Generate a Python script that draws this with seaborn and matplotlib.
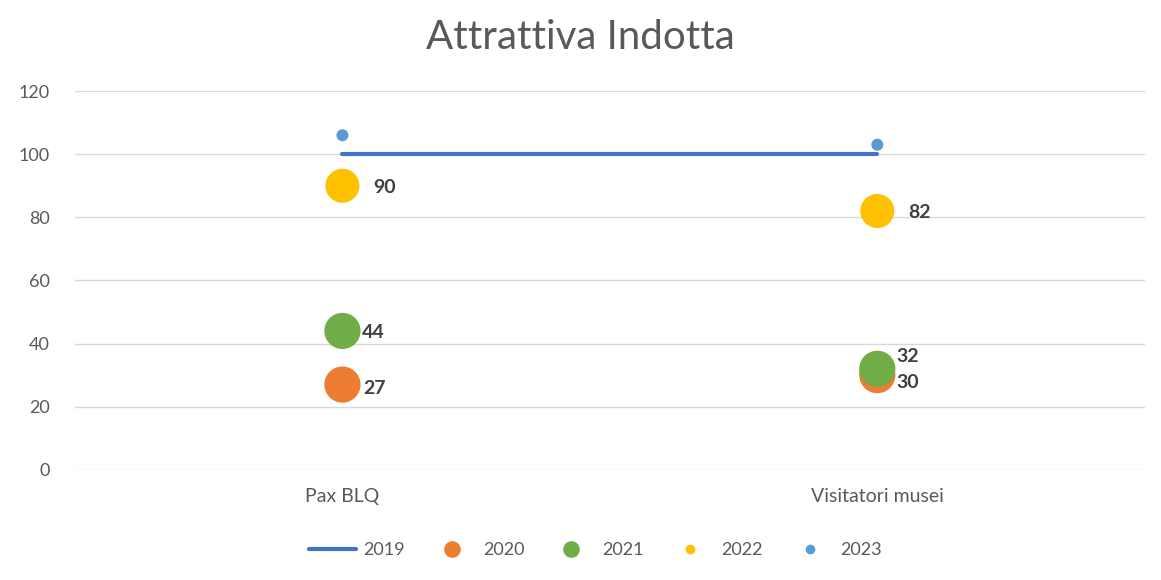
import pandas as pd
import seaborn as sb
import matplotlib.pyplot as plt
from matplotlib.lines import Line2D

# Categories and values per year
categories = ['Pax BLQ', 'Visitatori musei']
v2019 = [100, 100]
v2020 = [27, 30]
v2021 = [44, 32]
v2022 = [90, 82]
v2023 = [106, 103]

years = ['2019', '2020', '2021', '2022', '2023']
colors = {'2019': '#4472C4', '2020': '#ED7D31', '2021': '#70AD47',
          '2022': '#FFC000', '2023': '#5B9BD5'}
sizes = {'2020': 680, '2021': 680, '2022': 600, '2023': 75}

sb.set_style('white')
plt.rcParams['font.family'] = ['Lato', 'DejaVu Sans']

fig = plt.figure(figsize=(11.61, 5.80), dpi=100)
ax = fig.add_axes([0.0646, 0.19, 0.9214, 0.653])

# 2019 as a line
df19 = pd.DataFrame({'cat': categories, 'val': v2019})
sb.lineplot(data=df19, x='cat', y='val', ax=ax, color=colors['2019'],
            linewidth=3, sort=False, zorder=2)

# other years as bubbles
series = {'2020': v2020, '2021': v2021, '2022': v2022, '2023': v2023}
for yr, vals in series.items():
    d = pd.DataFrame({'cat': categories, 'val': vals})
    sb.scatterplot(data=d, x='cat', y='val', ax=ax, color=colors[yr],
                   s=sizes[yr], edgecolor='none', zorder=3)

# data labels (Excel style, right of marker)
label_off = {
    ('2020', 0): (15, -3), ('2020', 1): (14, -5),
    ('2021', 0): (14, -1), ('2021', 1): (14, 9),
    ('2022', 0): (22, -1), ('2022', 1): (22, -1),
}
for yr in ['2020', '2021', '2022']:
    for i, v in enumerate(series[yr]):
        dx, dy = label_off[(yr, i)]
        ax.annotate(str(v), (i, v), xytext=(dx, dy), textcoords='offset points',
                    ha='left', va='center', fontsize=14, fontweight='bold',
                    color='#404040', zorder=4)

ax.set_xlim(-0.5, 1.5)
ax.set_ylim(0, 120)
ax.set_yticks(range(0, 121, 20))
ax.grid(axis='y', color='#D9D9D9', linewidth=1)
ax.set_axisbelow(True)
for s in ax.spines.values():
    s.set_visible(False)
ax.tick_params(axis='both', length=0, colors='#595959')
ax.tick_params(axis='y', pad=18, labelsize=13)
ax.tick_params(axis='x', pad=13, labelsize=14)
ax.set_xlabel('')
ax.set_ylabel('')

fig.suptitle('Attrattiva Indotta', y=0.968, fontsize=29, color='#595959')

# Legend
handles = [Line2D([0], [0], color=colors['2019'], lw=3)]
msz = {'2020': 12, '2021': 12, '2022': 7, '2023': 7}
for yr in ['2020', '2021', '2022', '2023']:
    handles.append(Line2D([0], [0], marker='o', linestyle='none',
                          markerfacecolor=colors[yr], markeredgecolor='none',
                          markersize=msz[yr]))
fig.legend(handles, years, loc='center', bbox_to_anchor=(0.513, 0.052), ncol=5,
           frameon=False, fontsize=13, labelcolor='#595959', columnspacing=1.3,
           handletextpad=0.4, handlelength=2.6)

plt.savefig('out.png', dpi=100)
